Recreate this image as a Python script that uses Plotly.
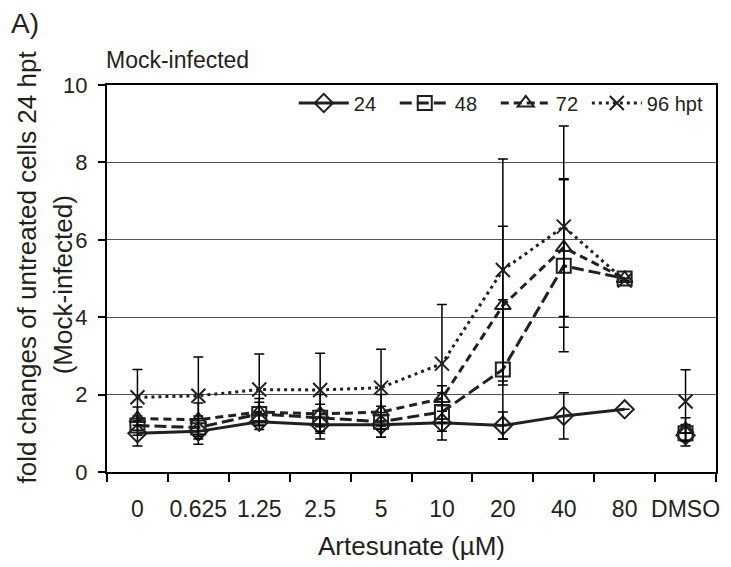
import plotly.graph_objects as go

# Artesunate concentrations (µM) plus the DMSO solvent control
categories = ["0", "0.625", "1.25", "2.5", "5", "10", "20", "40", "80", "DMSO"]

# Fold change relative to untreated cells at 24 hpt, with standard deviations
h24 = [1.00, 1.05, 1.30, 1.22, 1.22, 1.27, 1.20, 1.45, 1.62, 0.95]
e24 = [0.33, 0.33, 0.20, 0.37, 0.32, 0.44, 0.35, 0.60, 0.00, 0.28]
h48 = [1.20, 1.15, 1.50, 1.40, 1.30, 1.55, 2.65, 5.33, 5.00, 1.00]
e48 = [0.25, 0.30, 0.30, 0.35, 0.40, 0.50, 1.80, 2.22, 0.00, 0.20]
h72 = [1.38, 1.35, 1.55, 1.50, 1.55, 1.90, 4.30, 5.80, 5.00, 1.10]
e72 = [0.30, 0.43, 0.35, 0.50, 0.45, 0.33, 2.05, 1.78, 0.00, 0.30]
h96 = [1.93, 1.97, 2.13, 2.12, 2.18, 2.80, 5.22, 6.34, 4.95, 1.82]
e96 = [0.72, 1.00, 0.92, 0.95, 0.99, 1.53, 2.87, 2.60, 0.00, 0.82]

# name, values, errors, marker symbol, dash pattern, legend slot
series = [
    ("24", h24, e24, "diamond-open", "solid", "legend"),
    ("48", h48, e48, "square-open", "12px,5px", "legend"),
    ("72", h72, e72, "triangle-up-open", "8px,5px", "legend"),
    ("96 hpt", h96, e96, "x-thin-open", "3px,4px", "legend2"),
]

INK = "#231f20"
FONT = "Liberation Sans, Arial, sans-serif"

fig = go.Figure()
for name, vals, errs, sym, dash, leg in series:
    marker = dict(symbol=sym, size=14, color=INK, line=dict(color=INK, width=2))
    err_style = dict(thickness=1.5, width=5, color="black")
    # concentration series (connected)
    fig.add_trace(go.Scatter(
        x=categories[:-1], y=vals[:-1], name=name, mode="lines+markers",
        line=dict(color=INK, width=3, dash=dash), marker=marker,
        error_y=dict(type="data", array=errs[:-1], visible=True, **err_style),
        legendgroup=name, legend=leg,
    ))
    # DMSO control (not connected to the series)
    fig.add_trace(go.Scatter(
        x=categories[-1:], y=vals[-1:], name=name, mode="markers",
        marker=marker, showlegend=False, legendgroup=name, legend=leg,
        error_y=dict(type="data", array=errs[-1:], visible=True, **err_style),
    ))

L, R, T, B = 107, 720, 85, 472
W, H = 731, 567
pw, ph = R - L, B - T


def px(xp):
    return (xp - L) / pw


def py(yp):
    return (B - yp) / ph


legend_common = dict(
    orientation="h", xanchor="left", y=py(103), yanchor="middle",
    bgcolor="rgba(0,0,0,0)", font=dict(size=20), itemwidth=50,
    traceorder="normal",
)

fig.update_layout(
    width=W, height=H,
    margin=dict(l=L, r=W - R, t=T, b=H - B),
    paper_bgcolor="white", plot_bgcolor="white",
    font=dict(family=FONT, size=22, color="#231f20"),
    showlegend=True,
    legend=dict(x=px(295), entrywidth=36, entrywidthmode="pixels",
                **legend_common),
    legend2=dict(x=px(590), **legend_common),
    xaxis=dict(
        type="category", categoryorder="array", categoryarray=categories,
        range=[-0.5, 9.5], tickson="boundaries", ticks="outside", ticklen=8,
        tickwidth=2, tickcolor="black", showline=True, linecolor="black",
        linewidth=2, mirror=True, showgrid=False, zeroline=False,
        tickangle=0, ticklabelstandoff=15,
        title=dict(text="Artesunate (µM)", font=dict(size=26), standoff=16),
        tickfont=dict(size=23),
    ),
    yaxis=dict(
        range=[0, 10], dtick=2, ticks="outside", ticklen=7, tickwidth=2,
        tickcolor="black", showline=True, linecolor="black", linewidth=2,
        mirror=True, showgrid=True, gridcolor="#555555", gridwidth=1,
        zeroline=False, tickfont=dict(size=22), ticklabelstandoff=6,
    ),
    annotations=[
        dict(text="A)", xref="paper", yref="paper", x=px(8), y=py(23),
             xanchor="left", yanchor="middle", showarrow=False,
             font=dict(size=28)),
        dict(text="Mock-infected", xref="paper", yref="paper", x=px(104),
             y=py(60), xanchor="left", yanchor="middle", showarrow=False,
             font=dict(size=23)),
        dict(text="fold changes of untreated cells 24 hpt", xref="paper",
             yref="paper", x=px(26), y=py(267), xanchor="center",
             yanchor="middle", textangle=-90, showarrow=False,
             font=dict(size=26)),
        dict(text="(Mock-infected)", xref="paper", yref="paper", x=px(63),
             y=py(285), xanchor="center", yanchor="middle", textangle=-90,
             showarrow=False, font=dict(size=26)),
    ],
)

fig.write_html("out.html")
